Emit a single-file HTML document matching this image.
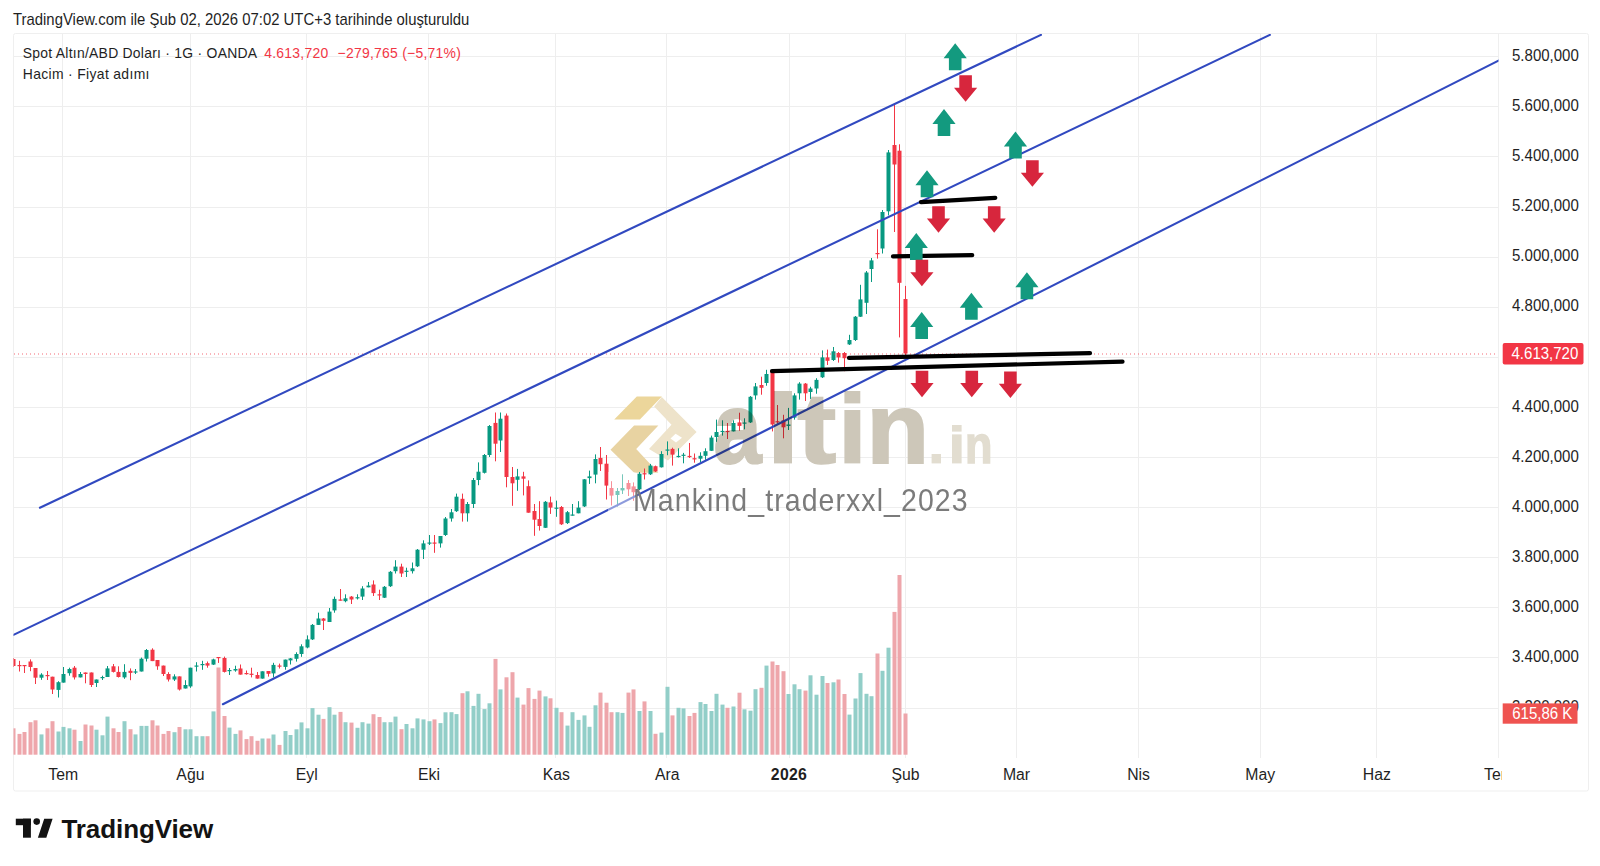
<!DOCTYPE html>
<html><head><meta charset="utf-8"><title>chart</title><style>
html,body{margin:0;padding:0;background:#fff;}
body{width:1600px;height:866px;overflow:hidden;position:relative;font-family:"Liberation Sans",sans-serif;}
svg{position:absolute;left:0;top:0;}
svg text{font-family:"Liberation Sans",sans-serif;}
</style></head><body>
<svg width="1600" height="866" viewBox="0 0 1600 866">
<defs><clipPath id="plot"><rect x="13.5" y="34" width="1485" height="724"/></clipPath></defs>
<rect x="13.5" y="33.5" width="1575" height="757.5" rx="2" fill="none" stroke="#efefef" stroke-width="1"/>
<line x1="1498.5" y1="34" x2="1498.5" y2="758" stroke="#efefef" stroke-width="1"/>
<g stroke="#eeeeee" stroke-width="1">
<line x1="14" y1="56.5" x2="1498" y2="56.5"/>
<line x1="14" y1="106.5" x2="1498" y2="106.5"/>
<line x1="14" y1="156.5" x2="1498" y2="156.5"/>
<line x1="14" y1="207.5" x2="1498" y2="207.5"/>
<line x1="14" y1="257.5" x2="1498" y2="257.5"/>
<line x1="14" y1="307.5" x2="1498" y2="307.5"/>
<line x1="14" y1="357.5" x2="1498" y2="357.5"/>
<line x1="14" y1="407.5" x2="1498" y2="407.5"/>
<line x1="14" y1="457.5" x2="1498" y2="457.5"/>
<line x1="14" y1="507.5" x2="1498" y2="507.5"/>
<line x1="14" y1="557.5" x2="1498" y2="557.5"/>
<line x1="14" y1="607.5" x2="1498" y2="607.5"/>
<line x1="14" y1="657.5" x2="1498" y2="657.5"/>
<line x1="14" y1="708.5" x2="1498" y2="708.5"/>
<line x1="62.5" y1="34" x2="62.5" y2="758"/>
<line x1="190.5" y1="34" x2="190.5" y2="758"/>
<line x1="306.5" y1="34" x2="306.5" y2="758"/>
<line x1="428.5" y1="34" x2="428.5" y2="758"/>
<line x1="555.5" y1="34" x2="555.5" y2="758"/>
<line x1="666.5" y1="34" x2="666.5" y2="758"/>
<line x1="789.5" y1="34" x2="789.5" y2="758"/>
<line x1="905.5" y1="34" x2="905.5" y2="758"/>
<line x1="1016.5" y1="34" x2="1016.5" y2="758"/>
<line x1="1138.5" y1="34" x2="1138.5" y2="758"/>
<line x1="1260.5" y1="34" x2="1260.5" y2="758"/>
<line x1="1376.5" y1="34" x2="1376.5" y2="758"/>
</g>
<g clip-path="url(#plot)">
<g>
<rect x="11.50" y="728.3" width="4" height="26.4" fill="#eea6ab"/>
<rect x="17.50" y="733.9" width="4" height="20.8" fill="#eea6ab"/>
<rect x="22.50" y="732.0" width="4" height="22.7" fill="#eea6ab"/>
<rect x="28.50" y="722.2" width="4" height="32.5" fill="#eea6ab"/>
<rect x="33.50" y="720.3" width="4" height="34.4" fill="#eea6ab"/>
<rect x="39.50" y="734.4" width="4" height="20.3" fill="#92cec8"/>
<rect x="45.50" y="728.3" width="4" height="26.4" fill="#eea6ab"/>
<rect x="50.50" y="721.2" width="4" height="33.5" fill="#eea6ab"/>
<rect x="56.50" y="731.5" width="4" height="23.2" fill="#92cec8"/>
<rect x="61.50" y="726.9" width="4" height="27.8" fill="#92cec8"/>
<rect x="67.50" y="728.3" width="4" height="26.4" fill="#92cec8"/>
<rect x="72.50" y="729.7" width="4" height="25.0" fill="#eea6ab"/>
<rect x="78.50" y="741.0" width="4" height="13.7" fill="#92cec8"/>
<rect x="83.50" y="724.5" width="4" height="30.2" fill="#eea6ab"/>
<rect x="89.50" y="725.5" width="4" height="29.2" fill="#eea6ab"/>
<rect x="94.50" y="729.7" width="4" height="25.0" fill="#92cec8"/>
<rect x="100.50" y="735.3" width="4" height="19.4" fill="#92cec8"/>
<rect x="105.50" y="716.6" width="4" height="38.1" fill="#92cec8"/>
<rect x="111.50" y="728.3" width="4" height="26.4" fill="#eea6ab"/>
<rect x="116.50" y="732.0" width="4" height="22.7" fill="#eea6ab"/>
<rect x="122.50" y="721.2" width="4" height="33.5" fill="#92cec8"/>
<rect x="128.50" y="729.2" width="4" height="25.5" fill="#eea6ab"/>
<rect x="133.50" y="734.4" width="4" height="20.3" fill="#92cec8"/>
<rect x="139.50" y="725.9" width="4" height="28.8" fill="#92cec8"/>
<rect x="144.50" y="725.9" width="4" height="28.8" fill="#92cec8"/>
<rect x="150.50" y="720.3" width="4" height="34.4" fill="#eea6ab"/>
<rect x="155.50" y="725.5" width="4" height="29.2" fill="#eea6ab"/>
<rect x="161.50" y="733.9" width="4" height="20.8" fill="#eea6ab"/>
<rect x="166.50" y="731.0" width="4" height="23.7" fill="#eea6ab"/>
<rect x="172.50" y="732.2" width="4" height="22.5" fill="#92cec8"/>
<rect x="177.50" y="727.0" width="4" height="27.7" fill="#eea6ab"/>
<rect x="183.50" y="729.3" width="4" height="25.4" fill="#92cec8"/>
<rect x="188.50" y="729.3" width="4" height="25.4" fill="#92cec8"/>
<rect x="194.50" y="736.2" width="4" height="18.5" fill="#92cec8"/>
<rect x="200.50" y="736.2" width="4" height="18.5" fill="#92cec8"/>
<rect x="205.50" y="736.2" width="4" height="18.5" fill="#eea6ab"/>
<rect x="211.50" y="711.4" width="4" height="43.3" fill="#92cec8"/>
<rect x="216.50" y="667.5" width="4" height="87.2" fill="#eea6ab"/>
<rect x="222.50" y="716.0" width="4" height="38.7" fill="#eea6ab"/>
<rect x="227.50" y="727.6" width="4" height="27.1" fill="#92cec8"/>
<rect x="233.50" y="733.9" width="4" height="20.8" fill="#92cec8"/>
<rect x="238.50" y="730.4" width="4" height="24.3" fill="#eea6ab"/>
<rect x="244.50" y="739.1" width="4" height="15.6" fill="#eea6ab"/>
<rect x="249.50" y="736.2" width="4" height="18.5" fill="#eea6ab"/>
<rect x="255.50" y="740.8" width="4" height="13.9" fill="#eea6ab"/>
<rect x="260.50" y="738.5" width="4" height="16.2" fill="#92cec8"/>
<rect x="266.50" y="738.5" width="4" height="16.2" fill="#eea6ab"/>
<rect x="271.50" y="734.5" width="4" height="20.2" fill="#92cec8"/>
<rect x="277.50" y="744.9" width="4" height="9.8" fill="#eea6ab"/>
<rect x="283.50" y="731.0" width="4" height="23.7" fill="#92cec8"/>
<rect x="288.50" y="735.0" width="4" height="19.7" fill="#92cec8"/>
<rect x="294.50" y="729.3" width="4" height="25.4" fill="#92cec8"/>
<rect x="299.50" y="722.4" width="4" height="32.3" fill="#92cec8"/>
<rect x="305.50" y="728.3" width="4" height="26.4" fill="#92cec8"/>
<rect x="310.50" y="708.1" width="4" height="46.6" fill="#92cec8"/>
<rect x="316.50" y="714.7" width="4" height="40.0" fill="#92cec8"/>
<rect x="321.50" y="718.9" width="4" height="35.8" fill="#eea6ab"/>
<rect x="327.50" y="707.2" width="4" height="47.5" fill="#92cec8"/>
<rect x="332.50" y="714.7" width="4" height="40.0" fill="#92cec8"/>
<rect x="338.50" y="711.9" width="4" height="42.8" fill="#eea6ab"/>
<rect x="343.50" y="722.2" width="4" height="32.5" fill="#92cec8"/>
<rect x="349.50" y="722.6" width="4" height="32.1" fill="#eea6ab"/>
<rect x="355.50" y="727.8" width="4" height="26.9" fill="#92cec8"/>
<rect x="360.50" y="722.2" width="4" height="32.5" fill="#92cec8"/>
<rect x="366.50" y="723.6" width="4" height="31.1" fill="#92cec8"/>
<rect x="371.50" y="714.2" width="4" height="40.5" fill="#eea6ab"/>
<rect x="377.50" y="717.0" width="4" height="37.7" fill="#eea6ab"/>
<rect x="382.50" y="722.2" width="4" height="32.5" fill="#92cec8"/>
<rect x="388.50" y="722.2" width="4" height="32.5" fill="#92cec8"/>
<rect x="393.50" y="716.6" width="4" height="38.1" fill="#92cec8"/>
<rect x="399.50" y="729.2" width="4" height="25.5" fill="#eea6ab"/>
<rect x="404.50" y="724.0" width="4" height="30.7" fill="#92cec8"/>
<rect x="410.50" y="728.3" width="4" height="26.4" fill="#92cec8"/>
<rect x="415.50" y="718.4" width="4" height="36.3" fill="#92cec8"/>
<rect x="421.50" y="719.4" width="4" height="35.3" fill="#92cec8"/>
<rect x="427.50" y="721.2" width="4" height="33.5" fill="#92cec8"/>
<rect x="432.50" y="719.4" width="4" height="35.3" fill="#eea6ab"/>
<rect x="438.50" y="723.1" width="4" height="31.6" fill="#92cec8"/>
<rect x="443.50" y="712.3" width="4" height="42.4" fill="#92cec8"/>
<rect x="449.50" y="712.2" width="4" height="42.5" fill="#92cec8"/>
<rect x="454.50" y="714.1" width="4" height="40.6" fill="#92cec8"/>
<rect x="460.50" y="693.2" width="4" height="61.5" fill="#eea6ab"/>
<rect x="465.50" y="691.3" width="4" height="63.4" fill="#92cec8"/>
<rect x="471.50" y="705.9" width="4" height="48.8" fill="#92cec8"/>
<rect x="476.50" y="693.8" width="4" height="60.9" fill="#92cec8"/>
<rect x="482.50" y="709.1" width="4" height="45.6" fill="#92cec8"/>
<rect x="487.50" y="703.3" width="4" height="51.4" fill="#92cec8"/>
<rect x="493.50" y="658.9" width="4" height="95.8" fill="#eea6ab"/>
<rect x="498.50" y="689.4" width="4" height="65.3" fill="#92cec8"/>
<rect x="504.50" y="677.3" width="4" height="77.4" fill="#eea6ab"/>
<rect x="510.50" y="672.2" width="4" height="82.5" fill="#eea6ab"/>
<rect x="515.50" y="697.6" width="4" height="57.1" fill="#92cec8"/>
<rect x="521.50" y="704.6" width="4" height="50.1" fill="#eea6ab"/>
<rect x="526.50" y="688.1" width="4" height="66.6" fill="#eea6ab"/>
<rect x="532.50" y="698.9" width="4" height="55.8" fill="#eea6ab"/>
<rect x="537.50" y="690.6" width="4" height="64.1" fill="#eea6ab"/>
<rect x="543.50" y="696.4" width="4" height="58.3" fill="#92cec8"/>
<rect x="548.50" y="698.3" width="4" height="56.4" fill="#eea6ab"/>
<rect x="554.50" y="707.8" width="4" height="46.9" fill="#92cec8"/>
<rect x="559.50" y="712.2" width="4" height="42.5" fill="#eea6ab"/>
<rect x="565.50" y="725.6" width="4" height="29.1" fill="#92cec8"/>
<rect x="570.50" y="712.2" width="4" height="42.5" fill="#92cec8"/>
<rect x="576.50" y="719.9" width="4" height="34.8" fill="#92cec8"/>
<rect x="582.50" y="715.4" width="4" height="39.3" fill="#92cec8"/>
<rect x="587.50" y="726.8" width="4" height="27.9" fill="#92cec8"/>
<rect x="593.50" y="705.3" width="4" height="49.4" fill="#92cec8"/>
<rect x="598.50" y="692.6" width="4" height="62.1" fill="#eea6ab"/>
<rect x="604.50" y="702.7" width="4" height="52.0" fill="#eea6ab"/>
<rect x="609.50" y="712.2" width="4" height="42.5" fill="#eea6ab"/>
<rect x="615.50" y="712.2" width="4" height="42.5" fill="#92cec8"/>
<rect x="620.50" y="712.9" width="4" height="41.8" fill="#92cec8"/>
<rect x="626.50" y="692.6" width="4" height="62.1" fill="#eea6ab"/>
<rect x="631.50" y="689.4" width="4" height="65.3" fill="#eea6ab"/>
<rect x="637.50" y="711.0" width="4" height="43.7" fill="#92cec8"/>
<rect x="642.50" y="701.4" width="4" height="53.3" fill="#eea6ab"/>
<rect x="648.50" y="711.0" width="4" height="43.7" fill="#92cec8"/>
<rect x="653.50" y="733.8" width="4" height="20.9" fill="#eea6ab"/>
<rect x="659.50" y="732.6" width="4" height="22.1" fill="#92cec8"/>
<rect x="665.50" y="686.8" width="4" height="67.9" fill="#92cec8"/>
<rect x="670.50" y="715.4" width="4" height="39.3" fill="#eea6ab"/>
<rect x="676.50" y="707.8" width="4" height="46.9" fill="#92cec8"/>
<rect x="681.50" y="708.4" width="4" height="46.3" fill="#92cec8"/>
<rect x="687.50" y="716.0" width="4" height="38.7" fill="#eea6ab"/>
<rect x="692.50" y="712.9" width="4" height="41.8" fill="#eea6ab"/>
<rect x="698.50" y="702.1" width="4" height="52.6" fill="#92cec8"/>
<rect x="703.50" y="704.0" width="4" height="50.7" fill="#92cec8"/>
<rect x="709.50" y="711.0" width="4" height="43.7" fill="#92cec8"/>
<rect x="714.50" y="693.8" width="4" height="60.9" fill="#92cec8"/>
<rect x="720.50" y="704.6" width="4" height="50.1" fill="#92cec8"/>
<rect x="725.50" y="707.8" width="4" height="46.9" fill="#eea6ab"/>
<rect x="731.50" y="706.5" width="4" height="48.2" fill="#92cec8"/>
<rect x="737.50" y="692.7" width="4" height="62.0" fill="#eea6ab"/>
<rect x="742.50" y="709.3" width="4" height="45.4" fill="#92cec8"/>
<rect x="748.50" y="710.7" width="4" height="44.0" fill="#92cec8"/>
<rect x="753.50" y="689.2" width="4" height="65.5" fill="#92cec8"/>
<rect x="759.50" y="687.8" width="4" height="66.9" fill="#eea6ab"/>
<rect x="764.50" y="665.6" width="4" height="89.1" fill="#92cec8"/>
<rect x="770.50" y="661.5" width="4" height="93.2" fill="#eea6ab"/>
<rect x="775.50" y="665.0" width="4" height="89.7" fill="#eea6ab"/>
<rect x="781.50" y="671.2" width="4" height="83.5" fill="#eea6ab"/>
<rect x="786.50" y="694.0" width="4" height="60.7" fill="#92cec8"/>
<rect x="792.50" y="684.3" width="4" height="70.4" fill="#92cec8"/>
<rect x="797.50" y="689.2" width="4" height="65.5" fill="#92cec8"/>
<rect x="803.50" y="690.6" width="4" height="64.1" fill="#eea6ab"/>
<rect x="808.50" y="675.3" width="4" height="79.4" fill="#92cec8"/>
<rect x="814.50" y="694.7" width="4" height="60.0" fill="#92cec8"/>
<rect x="820.50" y="676.0" width="4" height="78.7" fill="#92cec8"/>
<rect x="825.50" y="683.0" width="4" height="71.7" fill="#eea6ab"/>
<rect x="831.50" y="682.3" width="4" height="72.4" fill="#92cec8"/>
<rect x="836.50" y="679.5" width="4" height="75.2" fill="#eea6ab"/>
<rect x="842.50" y="694.0" width="4" height="60.7" fill="#eea6ab"/>
<rect x="847.50" y="714.6" width="4" height="40.1" fill="#92cec8"/>
<rect x="853.50" y="698.5" width="4" height="56.2" fill="#92cec8"/>
<rect x="858.50" y="673.1" width="4" height="81.6" fill="#92cec8"/>
<rect x="864.50" y="693.8" width="4" height="60.9" fill="#92cec8"/>
<rect x="869.50" y="696.2" width="4" height="58.5" fill="#92cec8"/>
<rect x="875.50" y="653.5" width="4" height="101.2" fill="#eea6ab"/>
<rect x="880.50" y="670.8" width="4" height="83.9" fill="#92cec8"/>
<rect x="886.50" y="647.7" width="4" height="107.0" fill="#92cec8"/>
<rect x="892.50" y="611.9" width="4" height="142.8" fill="#eea6ab"/>
<rect x="897.50" y="575.0" width="4" height="179.7" fill="#eea6ab"/>
<rect x="903.50" y="713.5" width="4" height="41.2" fill="#eea6ab"/>
</g>
<g>
<polygon points="614.2,419.4 636.8,396.6 661.9,396.6 639.9,419.4" fill="#ecd69b"/>
<polygon points="634.1,425.5 658.4,425.5 636.2,449.1 658.4,472.7 634.1,472.7 610.5,449.8" fill="#e8d3a2"/>
<polygon points="654.1,406.6 661.8,396.9 696.6,432 668,460.6 649,449 671.5,424.8" fill="#eee3ca"/>
<polygon points="675.6,433.7 682,437.7 676,442.5 670.5,438.5" fill="#fff"/>
</g>
<g>
<rect x="13" y="658.0" width="1" height="9.0" fill="#f23645"/><rect x="11.5" y="659.0" width="4" height="7.0" fill="#f23645"/>
<rect x="19" y="660.8" width="1" height="10.7" fill="#f23645"/><rect x="17.5" y="665.0" width="4" height="1.2" fill="#f23645"/>
<rect x="24" y="665.0" width="1" height="8.0" fill="#f23645"/><rect x="22.5" y="665.0" width="4" height="1.2" fill="#f23645"/>
<rect x="30" y="659.4" width="1" height="11.8" fill="#f23645"/><rect x="28.5" y="661.5" width="4" height="5.5" fill="#f23645"/>
<rect x="35" y="668.0" width="1" height="16.0" fill="#f23645"/><rect x="33.5" y="668.0" width="4" height="9.7" fill="#f23645"/>
<rect x="41" y="673.2" width="1" height="6.6" fill="#089981"/><rect x="39.5" y="674.6" width="4" height="3.1" fill="#089981"/>
<rect x="47" y="671.0" width="1" height="9.0" fill="#f23645"/><rect x="45.5" y="675.0" width="4" height="1.2" fill="#f23645"/>
<rect x="52" y="676.7" width="1" height="17.3" fill="#f23645"/><rect x="50.5" y="676.7" width="4" height="12.8" fill="#f23645"/>
<rect x="58" y="681.2" width="1" height="16.3" fill="#089981"/><rect x="56.5" y="682.2" width="4" height="7.7" fill="#089981"/>
<rect x="63" y="667.0" width="1" height="15.6" fill="#089981"/><rect x="61.5" y="674.0" width="4" height="8.6" fill="#089981"/>
<rect x="69" y="667.7" width="1" height="8.0" fill="#089981"/><rect x="67.5" y="669.0" width="4" height="4.2" fill="#089981"/>
<rect x="74" y="666.0" width="1" height="13.5" fill="#f23645"/><rect x="72.5" y="667.7" width="4" height="9.7" fill="#f23645"/>
<rect x="80" y="672.0" width="1" height="5.4" fill="#089981"/><rect x="78.5" y="674.0" width="4" height="3.4" fill="#089981"/>
<rect x="85" y="672.5" width="1" height="10.8" fill="#f23645"/><rect x="83.5" y="672.5" width="4" height="1.5" fill="#f23645"/>
<rect x="91" y="672.5" width="1" height="14.5" fill="#f23645"/><rect x="89.5" y="672.5" width="4" height="12.5" fill="#f23645"/>
<rect x="96" y="679.5" width="1" height="7.5" fill="#089981"/><rect x="94.5" y="679.5" width="4" height="3.5" fill="#089981"/>
<rect x="102" y="675.7" width="1" height="4.3" fill="#089981"/><rect x="100.5" y="677.0" width="4" height="1.2" fill="#089981"/>
<rect x="107" y="666.0" width="1" height="11.0" fill="#089981"/><rect x="105.5" y="668.4" width="4" height="8.6" fill="#089981"/>
<rect x="113" y="664.0" width="1" height="8.5" fill="#f23645"/><rect x="111.5" y="666.3" width="4" height="5.6" fill="#f23645"/>
<rect x="118" y="666.3" width="1" height="11.2" fill="#f23645"/><rect x="116.5" y="671.9" width="4" height="5.1" fill="#f23645"/>
<rect x="124" y="664.2" width="1" height="14.6" fill="#089981"/><rect x="122.5" y="671.9" width="4" height="5.5" fill="#089981"/>
<rect x="130" y="668.4" width="1" height="11.8" fill="#f23645"/><rect x="128.5" y="670.8" width="4" height="2.1" fill="#f23645"/>
<rect x="135" y="669.0" width="1" height="5.0" fill="#089981"/><rect x="133.5" y="671.4" width="4" height="1.2" fill="#089981"/>
<rect x="141" y="657.6" width="1" height="13.9" fill="#089981"/><rect x="139.5" y="658.7" width="4" height="12.8" fill="#089981"/>
<rect x="146" y="649.0" width="1" height="12.5" fill="#089981"/><rect x="144.5" y="650.0" width="4" height="8.7" fill="#089981"/>
<rect x="152" y="648.3" width="1" height="12.8" fill="#f23645"/><rect x="150.5" y="649.7" width="4" height="11.4" fill="#f23645"/>
<rect x="157" y="660.0" width="1" height="9.8" fill="#f23645"/><rect x="155.5" y="660.0" width="4" height="6.3" fill="#f23645"/>
<rect x="163" y="665.6" width="1" height="10.4" fill="#f23645"/><rect x="161.5" y="665.6" width="4" height="8.4" fill="#f23645"/>
<rect x="168" y="672.2" width="1" height="9.3" fill="#f23645"/><rect x="166.5" y="674.0" width="4" height="5.5" fill="#f23645"/>
<rect x="174" y="674.3" width="1" height="6.7" fill="#089981"/><rect x="172.5" y="676.4" width="4" height="3.1" fill="#089981"/>
<rect x="179" y="676.4" width="1" height="14.1" fill="#f23645"/><rect x="177.5" y="676.4" width="4" height="13.1" fill="#f23645"/>
<rect x="185" y="680.2" width="1" height="8.3" fill="#089981"/><rect x="183.5" y="685.0" width="4" height="3.5" fill="#089981"/>
<rect x="190" y="667.7" width="1" height="20.1" fill="#089981"/><rect x="188.5" y="667.7" width="4" height="18.7" fill="#089981"/>
<rect x="196" y="662.2" width="1" height="9.3" fill="#089981"/><rect x="194.5" y="665.5" width="4" height="1.2" fill="#089981"/>
<rect x="202" y="660.8" width="1" height="9.0" fill="#089981"/><rect x="200.5" y="664.0" width="4" height="1.2" fill="#089981"/>
<rect x="207" y="661.5" width="1" height="6.2" fill="#f23645"/><rect x="205.5" y="663.2" width="4" height="2.4" fill="#f23645"/>
<rect x="213" y="658.7" width="1" height="6.3" fill="#089981"/><rect x="211.5" y="659.4" width="4" height="5.2" fill="#089981"/>
<rect x="218" y="657.0" width="1" height="5.9" fill="#f23645"/><rect x="216.5" y="657.0" width="4" height="1.2" fill="#f23645"/>
<rect x="224" y="656.6" width="1" height="15.9" fill="#f23645"/><rect x="222.5" y="658.0" width="4" height="13.9" fill="#f23645"/>
<rect x="229" y="668.0" width="1" height="7.0" fill="#089981"/><rect x="227.5" y="670.0" width="4" height="1.2" fill="#089981"/>
<rect x="235" y="665.7" width="1" height="6.0" fill="#089981"/><rect x="233.5" y="669.0" width="4" height="1.5" fill="#089981"/>
<rect x="240" y="664.5" width="1" height="10.1" fill="#f23645"/><rect x="238.5" y="668.5" width="4" height="6.1" fill="#f23645"/>
<rect x="246" y="670.5" width="1" height="4.1" fill="#f23645"/><rect x="244.5" y="673.0" width="4" height="1.2" fill="#f23645"/>
<rect x="251" y="667.7" width="1" height="9.7" fill="#f23645"/><rect x="249.5" y="673.7" width="4" height="1.2" fill="#f23645"/>
<rect x="257" y="672.0" width="1" height="6.6" fill="#f23645"/><rect x="255.5" y="675.0" width="4" height="3.6" fill="#f23645"/>
<rect x="262" y="671.3" width="1" height="7.3" fill="#089981"/><rect x="260.5" y="671.3" width="4" height="7.3" fill="#089981"/>
<rect x="268" y="671.0" width="1" height="5.6" fill="#f23645"/><rect x="266.5" y="671.0" width="4" height="2.8" fill="#f23645"/>
<rect x="273" y="662.8" width="1" height="14.6" fill="#089981"/><rect x="271.5" y="664.9" width="4" height="8.5" fill="#089981"/>
<rect x="279" y="663.6" width="1" height="4.9" fill="#f23645"/><rect x="277.5" y="665.5" width="4" height="1.2" fill="#f23645"/>
<rect x="285" y="659.6" width="1" height="10.1" fill="#089981"/><rect x="283.5" y="659.6" width="4" height="7.3" fill="#089981"/>
<rect x="290" y="658.0" width="1" height="6.5" fill="#089981"/><rect x="288.5" y="658.4" width="4" height="2.0" fill="#089981"/>
<rect x="296" y="652.3" width="1" height="9.3" fill="#089981"/><rect x="294.5" y="654.0" width="4" height="4.8" fill="#089981"/>
<rect x="301" y="644.3" width="1" height="12.5" fill="#089981"/><rect x="299.5" y="646.3" width="4" height="7.7" fill="#089981"/>
<rect x="307" y="635.4" width="1" height="12.9" fill="#089981"/><rect x="305.5" y="639.4" width="4" height="8.1" fill="#089981"/>
<rect x="312" y="624.0" width="1" height="16.0" fill="#089981"/><rect x="310.5" y="624.9" width="4" height="14.5" fill="#089981"/>
<rect x="318" y="612.7" width="1" height="12.3" fill="#089981"/><rect x="316.5" y="618.5" width="4" height="6.4" fill="#089981"/>
<rect x="323" y="618.0" width="1" height="12.0" fill="#f23645"/><rect x="321.5" y="618.5" width="4" height="2.3" fill="#f23645"/>
<rect x="329" y="608.0" width="1" height="14.0" fill="#089981"/><rect x="327.5" y="611.6" width="4" height="10.4" fill="#089981"/>
<rect x="334" y="596.6" width="1" height="16.1" fill="#089981"/><rect x="332.5" y="598.9" width="4" height="11.5" fill="#089981"/>
<rect x="340" y="589.0" width="1" height="11.6" fill="#f23645"/><rect x="338.5" y="599.5" width="4" height="1.2" fill="#f23645"/>
<rect x="345" y="594.3" width="1" height="8.0" fill="#089981"/><rect x="343.5" y="598.3" width="4" height="2.9" fill="#089981"/>
<rect x="351" y="596.0" width="1" height="8.0" fill="#f23645"/><rect x="349.5" y="596.6" width="4" height="2.9" fill="#f23645"/>
<rect x="357" y="594.3" width="1" height="5.2" fill="#089981"/><rect x="355.5" y="597.2" width="4" height="1.2" fill="#089981"/>
<rect x="362" y="586.2" width="1" height="13.8" fill="#089981"/><rect x="360.5" y="588.5" width="4" height="8.1" fill="#089981"/>
<rect x="368" y="582.0" width="1" height="5.3" fill="#089981"/><rect x="366.5" y="585.6" width="4" height="1.7" fill="#089981"/>
<rect x="373" y="580.4" width="1" height="15.6" fill="#f23645"/><rect x="371.5" y="584.5" width="4" height="8.6" fill="#f23645"/>
<rect x="379" y="589.7" width="1" height="10.3" fill="#f23645"/><rect x="377.5" y="594.3" width="4" height="1.2" fill="#f23645"/>
<rect x="384" y="586.0" width="1" height="12.0" fill="#089981"/><rect x="382.5" y="586.8" width="4" height="10.9" fill="#089981"/>
<rect x="390" y="571.0" width="1" height="16.0" fill="#089981"/><rect x="388.5" y="571.8" width="4" height="14.4" fill="#089981"/>
<rect x="395" y="560.2" width="1" height="13.3" fill="#089981"/><rect x="393.5" y="566.6" width="4" height="4.6" fill="#089981"/>
<rect x="401" y="563.7" width="1" height="13.3" fill="#f23645"/><rect x="399.5" y="566.6" width="4" height="6.9" fill="#f23645"/>
<rect x="406" y="567.7" width="1" height="9.3" fill="#089981"/><rect x="404.5" y="570.7" width="4" height="1.2" fill="#089981"/>
<rect x="412" y="562.5" width="1" height="11.0" fill="#089981"/><rect x="410.5" y="568.3" width="4" height="2.9" fill="#089981"/>
<rect x="417" y="549.0" width="1" height="18.0" fill="#089981"/><rect x="415.5" y="549.7" width="4" height="16.6" fill="#089981"/>
<rect x="423" y="540.3" width="1" height="18.7" fill="#089981"/><rect x="421.5" y="543.4" width="4" height="6.3" fill="#089981"/>
<rect x="429" y="535.0" width="1" height="10.0" fill="#089981"/><rect x="427.5" y="542.5" width="4" height="1.2" fill="#089981"/>
<rect x="434" y="535.0" width="1" height="17.8" fill="#f23645"/><rect x="432.5" y="542.5" width="4" height="1.2" fill="#f23645"/>
<rect x="440" y="536.0" width="1" height="11.6" fill="#089981"/><rect x="438.5" y="536.0" width="4" height="7.4" fill="#089981"/>
<rect x="445" y="517.0" width="1" height="19.0" fill="#089981"/><rect x="443.5" y="518.5" width="4" height="16.5" fill="#089981"/>
<rect x="451" y="509.0" width="1" height="12.6" fill="#089981"/><rect x="449.5" y="512.3" width="4" height="6.2" fill="#089981"/>
<rect x="456" y="493.6" width="1" height="18.4" fill="#089981"/><rect x="454.5" y="496.7" width="4" height="14.5" fill="#089981"/>
<rect x="462" y="493.6" width="1" height="28.0" fill="#f23645"/><rect x="460.5" y="498.8" width="4" height="14.5" fill="#f23645"/>
<rect x="467" y="502.0" width="1" height="19.6" fill="#089981"/><rect x="465.5" y="504.0" width="4" height="9.3" fill="#089981"/>
<rect x="473" y="478.0" width="1" height="30.0" fill="#089981"/><rect x="471.5" y="480.0" width="4" height="24.0" fill="#089981"/>
<rect x="478" y="462.4" width="1" height="22.8" fill="#089981"/><rect x="476.5" y="471.7" width="4" height="8.3" fill="#089981"/>
<rect x="484" y="454.0" width="1" height="19.5" fill="#089981"/><rect x="482.5" y="455.0" width="4" height="17.8" fill="#089981"/>
<rect x="489" y="425.0" width="1" height="32.0" fill="#089981"/><rect x="487.5" y="426.0" width="4" height="29.0" fill="#089981"/>
<rect x="495" y="412.5" width="1" height="48.8" fill="#f23645"/><rect x="493.5" y="422.9" width="4" height="20.8" fill="#f23645"/>
<rect x="500" y="412.5" width="1" height="39.5" fill="#089981"/><rect x="498.5" y="418.7" width="4" height="21.8" fill="#089981"/>
<rect x="506" y="413.5" width="1" height="73.8" fill="#f23645"/><rect x="504.5" y="415.6" width="4" height="61.4" fill="#f23645"/>
<rect x="512" y="467.0" width="1" height="38.8" fill="#f23645"/><rect x="510.5" y="477.0" width="4" height="6.3" fill="#f23645"/>
<rect x="517" y="468.9" width="1" height="21.9" fill="#089981"/><rect x="515.5" y="476.4" width="4" height="3.4" fill="#089981"/>
<rect x="523" y="471.8" width="1" height="23.6" fill="#f23645"/><rect x="521.5" y="476.4" width="4" height="2.3" fill="#f23645"/>
<rect x="528" y="480.4" width="1" height="32.3" fill="#f23645"/><rect x="526.5" y="486.2" width="4" height="26.5" fill="#f23645"/>
<rect x="534" y="504.0" width="1" height="31.8" fill="#f23645"/><rect x="532.5" y="511.0" width="4" height="8.7" fill="#f23645"/>
<rect x="539" y="501.2" width="1" height="29.4" fill="#f23645"/><rect x="537.5" y="519.1" width="4" height="6.9" fill="#f23645"/>
<rect x="545" y="501.0" width="1" height="27.0" fill="#089981"/><rect x="543.5" y="501.8" width="4" height="26.0" fill="#089981"/>
<rect x="550" y="496.6" width="1" height="17.3" fill="#f23645"/><rect x="548.5" y="502.4" width="4" height="5.2" fill="#f23645"/>
<rect x="556" y="500.6" width="1" height="16.2" fill="#089981"/><rect x="554.5" y="507.6" width="4" height="1.2" fill="#089981"/>
<rect x="561" y="506.0" width="1" height="19.0" fill="#f23645"/><rect x="559.5" y="507.0" width="4" height="17.3" fill="#f23645"/>
<rect x="567" y="511.0" width="1" height="13.0" fill="#089981"/><rect x="565.5" y="512.2" width="4" height="10.9" fill="#089981"/>
<rect x="572" y="504.0" width="1" height="11.6" fill="#089981"/><rect x="570.5" y="514.5" width="4" height="1.2" fill="#089981"/>
<rect x="578" y="501.2" width="1" height="12.1" fill="#089981"/><rect x="576.5" y="507.6" width="4" height="5.7" fill="#089981"/>
<rect x="584" y="479.0" width="1" height="28.0" fill="#089981"/><rect x="582.5" y="479.3" width="4" height="27.1" fill="#089981"/>
<rect x="589" y="470.6" width="1" height="13.3" fill="#089981"/><rect x="587.5" y="476.4" width="4" height="1.7" fill="#089981"/>
<rect x="595" y="454.4" width="1" height="28.9" fill="#089981"/><rect x="593.5" y="459.0" width="4" height="15.6" fill="#089981"/>
<rect x="600" y="447.0" width="1" height="24.0" fill="#f23645"/><rect x="598.5" y="457.9" width="4" height="6.3" fill="#f23645"/>
<rect x="606" y="455.0" width="1" height="44.5" fill="#f23645"/><rect x="604.5" y="463.7" width="4" height="21.9" fill="#f23645"/>
<rect x="611" y="481.2" width="1" height="24.3" fill="#f23645"/><rect x="609.5" y="488.0" width="4" height="7.6" fill="#f23645"/>
<rect x="617" y="488.0" width="1" height="18.6" fill="#089981"/><rect x="615.5" y="491.0" width="4" height="4.0" fill="#089981"/>
<rect x="622" y="474.3" width="1" height="19.7" fill="#089981"/><rect x="620.5" y="488.0" width="4" height="2.4" fill="#089981"/>
<rect x="628" y="480.0" width="1" height="16.0" fill="#f23645"/><rect x="626.5" y="483.0" width="4" height="6.3" fill="#f23645"/>
<rect x="633" y="482.4" width="1" height="18.4" fill="#f23645"/><rect x="631.5" y="486.4" width="4" height="5.8" fill="#f23645"/>
<rect x="639" y="472.0" width="1" height="18.0" fill="#089981"/><rect x="637.5" y="473.7" width="4" height="15.6" fill="#089981"/>
<rect x="644" y="468.5" width="1" height="11.0" fill="#f23645"/><rect x="642.5" y="473.2" width="4" height="1.2" fill="#f23645"/>
<rect x="650" y="463.9" width="1" height="11.1" fill="#089981"/><rect x="648.5" y="465.6" width="4" height="8.7" fill="#089981"/>
<rect x="655" y="465.6" width="1" height="6.4" fill="#f23645"/><rect x="653.5" y="466.2" width="4" height="5.2" fill="#f23645"/>
<rect x="661" y="451.2" width="1" height="16.3" fill="#089981"/><rect x="659.5" y="454.0" width="4" height="13.3" fill="#089981"/>
<rect x="667" y="441.4" width="1" height="13.8" fill="#089981"/><rect x="665.5" y="449.5" width="4" height="1.2" fill="#089981"/>
<rect x="672" y="447.7" width="1" height="17.9" fill="#f23645"/><rect x="670.5" y="448.9" width="4" height="5.7" fill="#f23645"/>
<rect x="678" y="448.3" width="1" height="9.2" fill="#089981"/><rect x="676.5" y="455.9" width="4" height="1.2" fill="#089981"/>
<rect x="683" y="452.9" width="1" height="10.4" fill="#089981"/><rect x="681.5" y="454.7" width="4" height="1.2" fill="#089981"/>
<rect x="689" y="443.0" width="1" height="15.0" fill="#f23645"/><rect x="687.5" y="455.9" width="4" height="1.2" fill="#f23645"/>
<rect x="694" y="453.5" width="1" height="9.2" fill="#f23645"/><rect x="692.5" y="458.2" width="4" height="1.2" fill="#f23645"/>
<rect x="700" y="452.3" width="1" height="9.9" fill="#089981"/><rect x="698.5" y="455.8" width="4" height="2.9" fill="#089981"/>
<rect x="705" y="448.3" width="1" height="11.5" fill="#089981"/><rect x="703.5" y="451.2" width="4" height="4.6" fill="#089981"/>
<rect x="711" y="435.6" width="1" height="15.4" fill="#089981"/><rect x="709.5" y="437.6" width="4" height="13.2" fill="#089981"/>
<rect x="716" y="419.6" width="1" height="22.2" fill="#089981"/><rect x="714.5" y="432.0" width="4" height="5.0" fill="#089981"/>
<rect x="722" y="420.3" width="1" height="15.3" fill="#089981"/><rect x="720.5" y="430.9" width="4" height="1.2" fill="#089981"/>
<rect x="727" y="423.0" width="1" height="16.0" fill="#f23645"/><rect x="725.5" y="430.9" width="4" height="1.2" fill="#f23645"/>
<rect x="733" y="420.3" width="1" height="11.1" fill="#089981"/><rect x="731.5" y="423.0" width="4" height="8.4" fill="#089981"/>
<rect x="739" y="412.7" width="1" height="18.0" fill="#f23645"/><rect x="737.5" y="422.4" width="4" height="3.5" fill="#f23645"/>
<rect x="744" y="418.3" width="1" height="11.0" fill="#089981"/><rect x="742.5" y="422.5" width="4" height="1.2" fill="#089981"/>
<rect x="750" y="396.0" width="1" height="27.0" fill="#089981"/><rect x="748.5" y="396.8" width="4" height="25.6" fill="#089981"/>
<rect x="755" y="383.0" width="1" height="16.6" fill="#089981"/><rect x="753.5" y="386.4" width="4" height="9.0" fill="#089981"/>
<rect x="761" y="376.7" width="1" height="18.0" fill="#f23645"/><rect x="759.5" y="385.0" width="4" height="2.8" fill="#f23645"/>
<rect x="766" y="369.8" width="1" height="15.9" fill="#089981"/><rect x="764.5" y="374.0" width="4" height="9.0" fill="#089981"/>
<rect x="772" y="370.0" width="1" height="61.4" fill="#f23645"/><rect x="770.5" y="370.5" width="4" height="54.0" fill="#f23645"/>
<rect x="777" y="405.0" width="1" height="18.8" fill="#f23645"/><rect x="775.5" y="421.2" width="4" height="1.2" fill="#f23645"/>
<rect x="783" y="414.8" width="1" height="23.5" fill="#f23645"/><rect x="781.5" y="420.3" width="4" height="7.0" fill="#f23645"/>
<rect x="788" y="407.9" width="1" height="22.1" fill="#089981"/><rect x="786.5" y="424.5" width="4" height="1.4" fill="#089981"/>
<rect x="794" y="393.3" width="1" height="26.3" fill="#089981"/><rect x="792.5" y="395.4" width="4" height="22.2" fill="#089981"/>
<rect x="799" y="382.2" width="1" height="17.4" fill="#089981"/><rect x="797.5" y="383.6" width="4" height="9.7" fill="#089981"/>
<rect x="805" y="383.0" width="1" height="18.0" fill="#f23645"/><rect x="803.5" y="383.6" width="4" height="9.7" fill="#f23645"/>
<rect x="810" y="386.8" width="1" height="12.1" fill="#089981"/><rect x="808.5" y="388.5" width="4" height="3.5" fill="#089981"/>
<rect x="816" y="378.2" width="1" height="15.5" fill="#089981"/><rect x="814.5" y="379.9" width="4" height="8.6" fill="#089981"/>
<rect x="822" y="350.4" width="1" height="27.6" fill="#089981"/><rect x="820.5" y="357.4" width="4" height="19.9" fill="#089981"/>
<rect x="827" y="349.6" width="1" height="15.4" fill="#f23645"/><rect x="825.5" y="357.4" width="4" height="3.4" fill="#f23645"/>
<rect x="833" y="347.0" width="1" height="14.0" fill="#089981"/><rect x="831.5" y="351.3" width="4" height="8.7" fill="#089981"/>
<rect x="838" y="352.0" width="1" height="10.6" fill="#f23645"/><rect x="836.5" y="353.0" width="4" height="4.4" fill="#f23645"/>
<rect x="844" y="352.0" width="1" height="19.2" fill="#f23645"/><rect x="842.5" y="353.0" width="4" height="5.2" fill="#f23645"/>
<rect x="849" y="334.8" width="1" height="10.2" fill="#089981"/><rect x="847.5" y="340.0" width="4" height="4.4" fill="#089981"/>
<rect x="855" y="316.0" width="1" height="25.0" fill="#089981"/><rect x="853.5" y="316.7" width="4" height="23.3" fill="#089981"/>
<rect x="860" y="284.8" width="1" height="32.2" fill="#089981"/><rect x="858.5" y="299.4" width="4" height="17.3" fill="#089981"/>
<rect x="866" y="271.0" width="1" height="43.0" fill="#089981"/><rect x="864.5" y="272.5" width="4" height="30.3" fill="#089981"/>
<rect x="871" y="258.0" width="1" height="24.0" fill="#089981"/><rect x="869.5" y="260.4" width="4" height="8.6" fill="#089981"/>
<rect x="877" y="229.3" width="1" height="29.3" fill="#f23645"/><rect x="875.5" y="253.0" width="4" height="1.2" fill="#f23645"/>
<rect x="882" y="210.0" width="1" height="43.5" fill="#089981"/><rect x="880.5" y="212.0" width="4" height="36.5" fill="#089981"/>
<rect x="888" y="150.0" width="1" height="65.4" fill="#089981"/><rect x="886.5" y="152.4" width="4" height="58.9" fill="#089981"/>
<rect x="894" y="104.7" width="1" height="127.3" fill="#f23645"/><rect x="892.5" y="145.0" width="4" height="19.5" fill="#f23645"/>
<rect x="899" y="144.3" width="1" height="193.1" fill="#f23645"/><rect x="897.5" y="150.7" width="4" height="132.1" fill="#f23645"/>
<rect x="905" y="285.9" width="1" height="70.7" fill="#f23645"/><rect x="903.5" y="299.0" width="4" height="54.5" fill="#f23645"/>
</g>
<line x1="14" y1="354" x2="1498" y2="354" stroke="#f23645" stroke-width="1" stroke-dasharray="1 3" stroke-opacity="0.75"/>
<g stroke="#3149c0" stroke-width="2.1" stroke-linecap="round">
<line x1="39.9" y1="507.7" x2="1041" y2="34.9"/>
<line x1="13.5" y1="634.9" x2="1269.9" y2="34.9"/>
<line x1="222.9" y1="704.2" x2="1500.6" y2="59.6"/>
</g>
<g fill="#cdc7b9" font-weight="bold" font-size="99.5" style="mix-blend-mode:multiply"><text transform="translate(713.5,463.4) scale(0.868,1)" stroke="#cdc7b9" stroke-width="2">a</text><rect x="774" y="391" width="18" height="72.4"/><text transform="translate(797,463.4) scale(1.19,1)" stroke="#cdc7b9" stroke-width="1.5">t</text><rect x="844.4" y="391" width="15.9" height="12.4"/><rect x="844.4" y="410" width="15.9" height="53.4"/><text transform="translate(866.6,463.4) scale(1.03,1)" stroke="#cdc7b9" stroke-width="2">n</text></g>
<g fill="#e2ddd0" style="mix-blend-mode:multiply"><rect x="931.6" y="454" width="9.4" height="9.4"/><rect x="952" y="425" width="9.6" height="6.6"/><rect x="952" y="434.4" width="9.6" height="29"/><text transform="translate(965,463.4) scale(0.835,1)" font-size="53.8" font-weight="bold" stroke="#e2ddd0" stroke-width="1.5">n</text></g>
<rect x="608" y="472" width="27.5" height="40" fill="#fff" opacity="0.45"/>
<g stroke="#000" stroke-width="4.2" stroke-linecap="round">
<line x1="921" y1="202.1" x2="995.3" y2="197.9"/>
<line x1="893" y1="256.4" x2="972.2" y2="255.1"/>
<line x1="849" y1="357.9" x2="1090" y2="353.1"/>
<line x1="772" y1="371.2" x2="1122.5" y2="361.6"/>
</g>
<g>
<polygon points="955.2,43.3 966.8,58.3 961.5,58.3 961.5,70.3 948.9,70.3 948.9,58.3 943.6,58.3" fill="#139a7f"/>
<polygon points="944.0,109.1 955.6,124.1 950.3,124.1 950.3,136.1 937.7,136.1 937.7,124.1 932.4,124.1" fill="#139a7f"/>
<polygon points="1015.5,131.6 1027.1,146.6 1021.8,146.6 1021.8,158.6 1009.2,158.6 1009.2,146.6 1003.9,146.6" fill="#139a7f"/>
<polygon points="927.0,170.2 938.6,185.2 933.3,185.2 933.3,197.2 920.7,197.2 920.7,185.2 915.4,185.2" fill="#139a7f"/>
<polygon points="916.3,233.0 927.9,248.0 922.6,248.0 922.6,260.0 910.0,260.0 910.0,248.0 904.7,248.0" fill="#139a7f"/>
<polygon points="1026.9,272.3 1038.5,287.3 1033.2,287.3 1033.2,299.3 1020.6,299.3 1020.6,287.3 1015.3,287.3" fill="#139a7f"/>
<polygon points="971.4,292.7 983.0,307.7 977.7,307.7 977.7,319.7 965.1,319.7 965.1,307.7 959.8,307.7" fill="#139a7f"/>
<polygon points="921.7,312.1 933.3,327.1 928.0,327.1 928.0,339.1 915.4,339.1 915.4,327.1 910.1,327.1" fill="#139a7f"/>
<polygon points="959.3,75.3 971.9,75.3 971.9,87.7 977.2,87.7 965.6,101.8 954.0,87.7 959.3,87.7" fill="#d7263d"/>
<polygon points="1026.1,160.3 1038.7,160.3 1038.7,172.7 1044.0,172.7 1032.4,186.8 1020.8,172.7 1026.1,172.7" fill="#d7263d"/>
<polygon points="932.2,206.2 944.8,206.2 944.8,218.6 950.1,218.6 938.5,232.7 926.9,218.6 932.2,218.6" fill="#d7263d"/>
<polygon points="987.9,206.2 1000.5,206.2 1000.5,218.6 1005.8,218.6 994.2,232.7 982.6,218.6 987.9,218.6" fill="#d7263d"/>
<polygon points="915.6,259.8 928.2,259.8 928.2,272.2 933.5,272.2 921.9,286.3 910.3,272.2 915.6,272.2" fill="#d7263d"/>
<polygon points="915.7,370.7 928.3,370.7 928.3,383.1 933.6,383.1 922.0,397.2 910.4,383.1 915.7,383.1" fill="#d7263d"/>
<polygon points="965.5,370.7 978.1,370.7 978.1,383.1 983.4,383.1 971.8,397.2 960.2,383.1 965.5,383.1" fill="#d7263d"/>
<polygon points="1004.1,371.4 1016.7,371.4 1016.7,383.8 1022.0,383.8 1010.4,397.9 998.8,383.8 1004.1,383.8" fill="#d7263d"/>
</g>
<text transform="translate(633,510.5) scale(0.913,1)" font-size="31.2" letter-spacing="1.19" fill="#7b7b7b">Mankind_traderxxl_2023</text>
</g>
<g font-size="15" fill="#1f1f1f">
<text transform="translate(1512,60.9) scale(0.9,1)" font-size="16.7">5.800,000</text>
<text transform="translate(1512,111.0) scale(0.9,1)" font-size="16.7">5.600,000</text>
<text transform="translate(1512,161.1) scale(0.9,1)" font-size="16.7">5.400,000</text>
<text transform="translate(1512,211.2) scale(0.9,1)" font-size="16.7">5.200,000</text>
<text transform="translate(1512,261.3) scale(0.9,1)" font-size="16.7">5.000,000</text>
<text transform="translate(1512,311.4) scale(0.9,1)" font-size="16.7">4.800,000</text>
<text transform="translate(1512,411.6) scale(0.9,1)" font-size="16.7">4.400,000</text>
<text transform="translate(1512,461.7) scale(0.9,1)" font-size="16.7">4.200,000</text>
<text transform="translate(1512,511.8) scale(0.9,1)" font-size="16.7">4.000,000</text>
<text transform="translate(1512,561.9) scale(0.9,1)" font-size="16.7">3.800,000</text>
<text transform="translate(1512,612.0) scale(0.9,1)" font-size="16.7">3.600,000</text>
<text transform="translate(1512,662.1) scale(0.9,1)" font-size="16.7">3.400,000</text>
<text transform="translate(1512,712.2) scale(0.9,1)" font-size="16.7">3.200,000</text>
</g>
<rect x="1502.7" y="343.1" width="80.8" height="21.3" rx="2" fill="#f23645"/>
<text transform="translate(1511.5,358.6) scale(0.9,1)" font-size="16.7" fill="#fff">4.613,720</text>
<rect x="1502.7" y="703.4" width="74.8" height="20.3" fill="#ef5350"/>
<text transform="translate(1512.2,719.2) scale(0.9,1)" font-size="16.7" fill="#fff">615,86 K</text>
<g font-size="15.8" fill="#1f1f1f" text-anchor="middle">
<text x="63.2" y="780.2">Tem</text>
<text x="190.4" y="780.2">Ağu</text>
<text x="306.8" y="780.2">Eyl</text>
<text x="429.0" y="780.2">Eki</text>
<text x="556.3" y="780.2">Kas</text>
<text x="667.3" y="780.2">Ara</text>
<text x="905.5" y="780.2">Şub</text>
<text x="1016.5" y="780.2">Mar</text>
<text x="1138.6" y="780.2">Nis</text>
<text x="1260.2" y="780.2">May</text>
<text x="1376.8" y="780.2">Haz</text>
<text x="789" y="780.2" font-weight="bold" letter-spacing="0.3">2026</text>
</g>
<svg x="1480" y="760" width="22" height="30" overflow="hidden"><text x="4" y="20.2" font-size="15.8" fill="#1f1f1f">Tem</text></svg>
<text transform="translate(13,24.9) scale(0.92,1)" font-size="16.2" fill="#1f1f1f">TradingView.com ile Şub 02, 2026 07:02 UTC+3 tarihinde oluşturuldu</text>
<text transform="translate(22.8,57.8) scale(0.96,1)" font-size="14.5" letter-spacing="0.27" fill="#1f1f1f">Spot Altın/ABD Doları · 1G · OANDA<tspan fill="#f23645" x="251.5">4.613,720</tspan><tspan fill="#f23645" x="327.9">−279,765 (−5,71%)</tspan></text>
<text transform="translate(22.8,79.1) scale(0.96,1)" font-size="14.5" letter-spacing="0.35" fill="#1f1f1f">Hacim · Fiyat adımı</text>
<g fill="#131313">
<rect x="15.8" y="818.7" width="15.1" height="6.5"/><rect x="23" y="818.7" width="7.9" height="19"/><circle cx="36.7" cy="821.6" r="3.3"/><polygon points="44.2,818.7 52.6,818.7 46.3,837.7 37.9,837.7"/>
</g>
<text x="61.5" y="837.7" font-size="26" font-weight="bold" fill="#131313" letter-spacing="-0.1">TradingView</text>
</svg>
</body></html>
